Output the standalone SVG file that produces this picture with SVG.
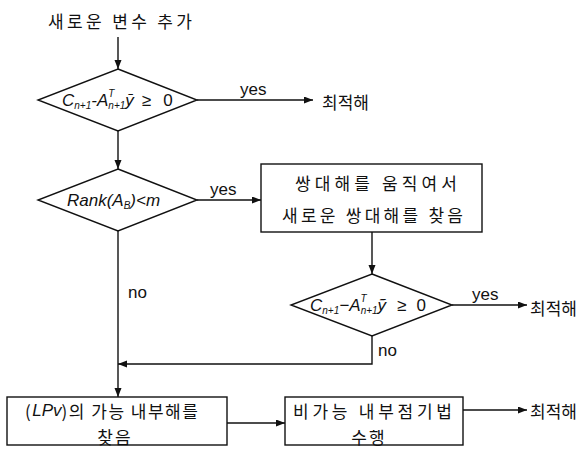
<svg xmlns="http://www.w3.org/2000/svg" width="583" height="449" viewBox="0 0 583 449">
<style>
.shape{fill:#fff;stroke:#111;stroke-width:1.4}
.ln{fill:none;stroke:#111;stroke-width:1.4}
.ko{font-family:"Noto Sans CJK KR","Noto Sans",sans-serif;font-size:17px;fill:#111;dominant-baseline:central}
.lat{font-family:"Liberation Sans",Arial,sans-serif;font-size:17px;fill:#111}
.m{font-family:"Liberation Sans",Arial,sans-serif;font-style:italic;font-size:17px;fill:#111}
.s{font-size:10px}
.up{font-style:normal}
</style>
<defs>
<marker id="ah" markerUnits="userSpaceOnUse" markerWidth="10" markerHeight="8" refX="9" refY="3.5" orient="auto">
<path d="M0,0 L9,3.5 L0,7 z" fill="#111"/>
</marker>
</defs>
<rect width="583" height="449" fill="#fff"/>

<g id="start">
<text class="ko" x="120" y="20" text-anchor="middle" textLength="144" lengthAdjust="spacing">새로운 변수 추가</text>
</g>

<g id="d1">
<polygon class="shape" points="118,69 197,100 118,131 38,100"/>
<text class="m" x="62" y="106">C<tspan class="s" dy="3">n+1</tspan><tspan dy="-3">-A</tspan><tspan class="s" dy="-9">T</tspan><tspan class="s" dx="-6" dy="12">n+1</tspan><tspan dy="-3">ȳ</tspan><tspan class="up" dx="8">≥</tspan><tspan class="up" dx="12">0</tspan></text>
</g>

<g id="opt1">
<text class="ko" x="322" y="101">최적해</text>
</g>

<g id="d2">
<polygon class="shape" points="118,169 197,200 118,231 38,200"/>
<text class="m" x="67" y="206" font-size="18.5">Rank(A<tspan class="s" dy="3">B</tspan><tspan dy="-3">)&lt;m</tspan></text>
</g>

<g id="b1">
<rect class="shape" x="261" y="164" width="221" height="68"/>
<text class="ko" x="295" y="182" textLength="162" lengthAdjust="spacing">쌍대해를 움직여서</text>
<text class="ko" x="282" y="214" textLength="181" lengthAdjust="spacing">새로운 쌍대해를 찾음</text>
</g>

<g id="d3">
<polygon class="shape" points="372,274 452,305 372,336 291,305"/>
<text class="m" x="310" y="311">C<tspan class="s" dy="3">n+1</tspan><tspan dy="-3">−A</tspan><tspan class="s" dy="-9">T</tspan><tspan class="s" dx="-6" dy="12">n+1</tspan><tspan dy="-3">ỹ</tspan><tspan class="up" dx="11">≥</tspan><tspan class="up" dx="10">0</tspan></text>
</g>

<g id="opt2">
<text class="ko" x="530" y="307">최적해</text>
</g>

<g id="bA">
<rect class="shape" x="7" y="397" width="220" height="48"/>
<text class="ko" x="25" y="410" letter-spacing="1.5">(<tspan font-family="Liberation Sans" font-style="italic" letter-spacing="0">LPv</tspan>)의 가능 내부해를</text>
<text class="ko" x="115" y="436" text-anchor="middle" letter-spacing="2">찾음</text>
</g>

<g id="bB">
<rect class="shape" x="285" y="397" width="178" height="48"/>
<text class="ko" x="293" y="410" textLength="159" lengthAdjust="spacing">비가능 내부점기법</text>
<text class="ko" x="369" y="436" text-anchor="middle" letter-spacing="2">수행</text>
</g>

<g id="opt3">
<text class="ko" x="530" y="410">최적해</text>
</g>

<g id="connectors">
<line class="ln" x1="118" y1="37" x2="118" y2="69" marker-end="url(#ah)"/>
<line class="ln" x1="197" y1="100" x2="313" y2="100" marker-end="url(#ah)"/>
<text class="lat" x="240" y="95">yes</text>
<line class="ln" x1="118" y1="131" x2="118" y2="169" marker-end="url(#ah)"/>
<line class="ln" x1="197" y1="200" x2="261" y2="200" marker-end="url(#ah)"/>
<text class="lat" x="210" y="195">yes</text>
<line class="ln" x1="118" y1="231" x2="118" y2="397" marker-end="url(#ah)"/>
<text class="lat" x="128" y="298">no</text>
<line class="ln" x1="372" y1="232" x2="372" y2="274" marker-end="url(#ah)"/>
<line class="ln" x1="452" y1="305" x2="527" y2="305" marker-end="url(#ah)"/>
<text class="lat" x="472" y="300">yes</text>
<polyline class="ln" points="372,336 372,364 118,364" marker-end="url(#ah)"/>
<text class="lat" x="378" y="356">no</text>
<line class="ln" x1="227" y1="423" x2="285" y2="423" marker-end="url(#ah)"/>
<line class="ln" x1="463" y1="410" x2="527" y2="410" marker-end="url(#ah)"/>
</g>
</svg>
